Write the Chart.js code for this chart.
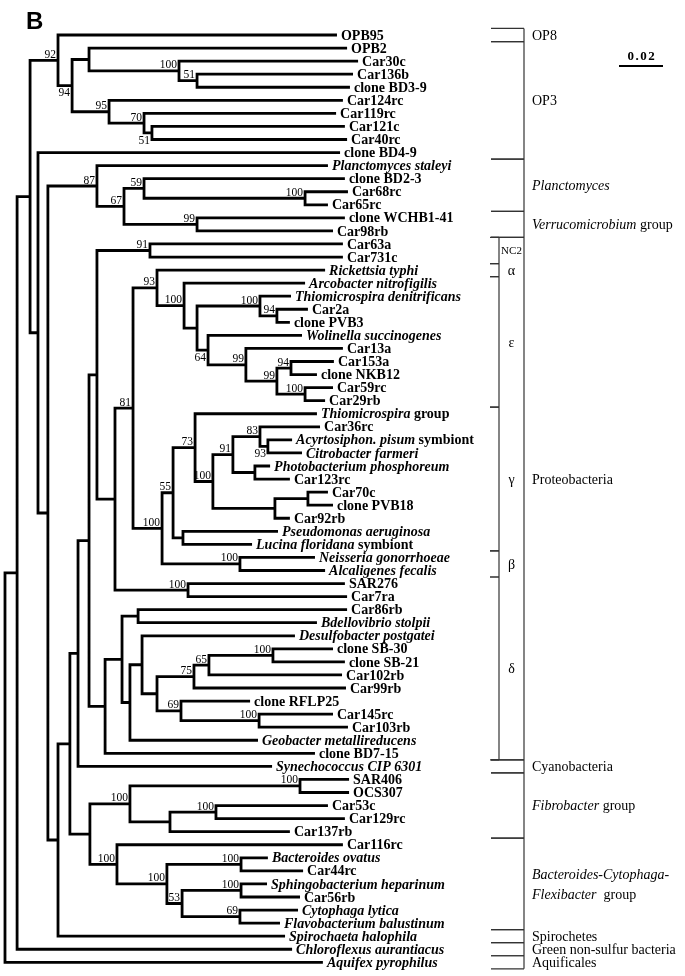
<!DOCTYPE html>
<html><head><meta charset="utf-8">
<script src="https://cdn.jsdelivr.net/npm/chart.js@4.4.0/dist/chart.umd.min.js"></script>
<style>html,body{margin:0;padding:0;background:#fff}#wrap{width:685px;height:976px;position:relative}</style>
</head><body><div id="wrap"><canvas id="c"></canvas></div>
<script>
// ---- DATA ----
// leaves, top to bottom; text between underscores is italic
const leafNames = ["OPB95","OPB2","Car30c","Car136b","clone BD3-9","Car124rc","Car119rc","Car121c","Car40rc","clone BD4-9",
"_Planctomyces staleyi_","clone BD2-3","Car68rc","Car65rc","clone WCHB1-41","Car98rb","Car63a","Car731c","_Rickettsia typhi_","_Arcobacter nitrofigilis_",
"_Thiomicrospira denitrificans_","Car2a","clone PVB3","_Wolinella succinogenes_","Car13a","Car153a","clone NKB12","Car59rc","Car29rb","_Thiomicrospira_ group",
"Car36rc","_Acyrtosiphon. pisum_ symbiont","_Citrobacter farmeri_","_Photobacterium phosphoreum_","Car123rc","Car70c","clone PVB18","Car92rb","_Pseudomonas aeruginosa_","_Lucina floridana_ symbiont",
"_Neisseria gonorrhoeae_","_Alcaligenes fecalis_","SAR276","Car7ra","Car86rb","_Bdellovibrio stolpii_","_Desulfobacter postgatei_","clone SB-30","clone SB-21","Car102rb",
"Car99rb","clone RFLP25","Car145rc","Car103rb","_Geobacter metallireducens_","clone BD7-15","_Synechococcus CIP 6301_","SAR406","OCS307","Car53c",
"Car129rc","Car137rb","Car116rc","_Bacteroides ovatus_","Car44rc","_Sphingobacterium heparinum_","Car56rb","_Cytophaga lytica_","_Flavobacterium balustinum_","_Spirochaeta halophila_",
"_Chloroflexus aurantiacus_","_Aquifex pyrophilus_"];
// distance from root (substitutions per site) of each leaf tip
const leafDepth = [0.1509,0.1555,0.1605,0.1582,0.1568,0.1536,0.1505,0.1545,0.1555,0.1523,
0.1468,0.1545,0.1559,0.1468,0.1545,0.1491,0.1536,0.1536,0.1455,0.1364,
0.1300,0.1377,0.1295,0.1350,0.1536,0.1495,0.1418,0.1491,0.1455,0.1418,
0.1432,0.1305,0.1350,0.1205,0.1295,0.1468,0.1491,0.1295,0.1241,0.1123,
0.1409,0.1455,0.1545,0.1555,0.1555,0.1418,0.1318,0.1491,0.1545,0.1532,
0.1550,0.1114,0.1491,0.1559,0.1150,0.1409,0.1214,0.1564,0.1564,0.1468,
0.1545,0.1295,0.1536,0.1195,0.1355,0.1191,0.1341,0.1332,0.1250,0.1273,
0.1305,0.1445];
// internal node each leaf hangs from
const leafParent = [3,5,6,7,7,8,9,10,10,11,
13,15,16,16,17,17,23,23,26,27,
29,30,30,31,32,34,34,35,35,38,
41,42,42,43,43,45,45,44,46,46,
47,47,48,48,51,51,53,57,57,56,
55,58,59,59,52,49,20,62,62,64,
64,63,65,67,67,69,69,70,70,18,
1,0];
// internal nodes
const nodeParent = [-1,0,1,2,3,4,5,6,4,8,9,2,11,12,13,14,15,14,12,18,
19,20,21,22,22,24,25,26,27,28,29,28,31,32,33,33,25,36,37,38,
39,40,41,40,39,44,37,36,24,21,49,50,50,52,53,54,55,56,54,58,
19,60,61,61,63,60,65,66,66,68,68];
const nodeDepth = [0,0.0055,0.0114,0.0241,0.0305,0.0382,0.0791,0.0873,0.0473,0.0632,
0.0668,0.0150,0.0195,0.0418,0.0541,0.0632,0.1364,0.0873,0.0241,0.0295,
0.0332,0.0382,0.0418,0.0659,0.0500,0.0582,0.0691,0.0814,0.0873,0.1159,
0.1236,0.0923,0.1095,0.1236,0.1300,0.1364,0.0714,0.0764,0.0864,0.0945,
0.1036,0.1159,0.1195,0.1136,0.1227,0.1377,0.0809,0.1068,0.0832,0.0455,
0.0532,0.0605,0.0568,0.0623,0.0691,0.0859,0.0927,0.1218,0.0800,0.1155,
0.0386,0.0568,0.1341,0.0750,0.0959,0.0509,0.0736,0.1073,0.0805,0.1073,
0.1068];
// bootstrap support values (null = not shown)
const nodeSupport = [null,null,null,92,94,null,100,51,95,70,
51,null,null,87,67,59,100,99,null,null,
null,null,null,91,null,81,93,100,null,100,
94,64,99,99,94,100,100,55,73,100,
91,83,93,null,null,null,null,100,100,null,
null,null,null,null,null,75,65,100,69,100,
null,100,100,null,100,100,100,100,53,100,
69];
const supportBelow = [4,10,31,42];
// groups (leaf index ranges)
const groupNames = ["OP8","OP3","_Planctomyces_","_Verrucomicrobium_ group","Proteobacteria","Cyanobacteria","_Fibrobacter_ group","_Bacteroides-Cytophaga-_|_Flexibacter_  group","Spirochetes","Green non-sulfur bacteria","Aquificales"];
const groupFirst = [0,1,10,14,16,56,57,62,69,70,71];
const groupLast  = [0,9,13,15,55,56,61,68,69,70,71];
const subNames = ["NC2","α","ε","γ","β","δ"];
const subFirst = [16,18,19,29,40,42];
const subLast  = [17,18,28,39,41,55];
const scaleBarValue = 0.02;
const scaleBarLabel = "0.02";
const panelLetter = "B";

// ---- layout from the tree structure ----
const nNode = nodeParent.length;
const children = Array.from({length:nNode}, () => []);
leafParent.forEach((p,i) => children[p].push({leaf:true,id:i}));
nodeParent.forEach((p,i) => { if (p >= 0) children[p].push({leaf:false,id:i}); });
const nodeY = new Array(nNode);
function yOf(c){ return c.leaf ? c.id : computeY(c.id); }
function dOf(c){ return c.leaf ? leafDepth[c.id] : nodeDepth[c.id]; }
function computeY(i){
  if (nodeY[i] !== undefined) return nodeY[i];
  const ys = children[i].map(yOf);
  nodeY[i] = (Math.min(...ys) + Math.max(...ys)) / 2;
  return nodeY[i];
}
for (let i = 0; i < nNode; i++) computeY(i);

const treePts = [];
for (let i = 0; i < nNode; i++) {
  const ch = children[i].slice().sort((a,b) => yOf(a) - yOf(b));
  const a = ch[0], b = ch[ch.length-1];
  treePts.push({x:dOf(a),y:yOf(a)},{x:nodeDepth[i],y:yOf(a)},{x:nodeDepth[i],y:yOf(b)},{x:dOf(b),y:yOf(b)},{x:null,y:null});
  for (let k = 1; k < ch.length-1; k++) treePts.push({x:nodeDepth[i],y:yOf(ch[k])},{x:dOf(ch[k]),y:yOf(ch[k])},{x:null,y:null});
}

const SERIF = "'Liberation Serif','Times New Roman',serif";
function richWidth(c, text, size, bold) {
  let w = 0;
  text.split('_').forEach((seg, k) => {
    c.font = (k % 2 ? 'italic ' : '') + (bold ? 'bold ' : '') + size + 'px ' + SERIF;
    w += c.measureText(seg).width;
  });
  return w;
}
function drawRich(c, text, x, y, size, bold, align) {
  let w = richWidth(c, text, size, bold);
  let cx = align === 'center' ? x - w/2 : (align === 'right' ? x - w : x);
  c.textAlign = 'left';
  text.split('_').forEach((seg, k) => {
    c.font = (k % 2 ? 'italic ' : '') + (bold ? 'bold ' : '') + size + 'px ' + SERIF;
    c.fillText(seg, cx, y);
    cx += c.measureText(seg).width;
  });
}

const labelPlugin = {
  id: 'treeLabels',
  afterDatasetsDraw(chart) {
    const xs = chart.scales.x, ys = chart.scales.y, c = chart.ctx;
    c.save();
    c.fillStyle = '#000';
    // leaf labels
    c.textBaseline = 'middle';
    leafNames.forEach((nm, i) => {
      drawRich(c, nm, xs.getPixelForValue(leafDepth[i]) + 4, ys.getPixelForValue(i) + 1, 14, true, 'left');
    });
    // bootstrap values
    c.font = '11.5px ' + SERIF;
    c.textAlign = 'right';
    nodeSupport.forEach((s, i) => {
      if (s === null) return;
      const px = xs.getPixelForValue(nodeDepth[i]) - 2;
      const py = ys.getPixelForValue(nodeY[i]);
      if (supportBelow.includes(i)) { c.textBaseline = 'top'; c.fillText(String(s), px, py + 2); }
      else { c.textBaseline = 'alphabetic'; c.fillText(String(s), px, py - 2.5); }
    });
    // group brackets
    const mainX = 524, tickL = 491, subX = 499;
    c.strokeStyle = '#333'; c.lineWidth = 1.2;
    const yTop = ys.getPixelForValue(groupFirst[0] - 0.5), yBot = ys.getPixelForValue(groupLast[groupLast.length-1] + 0.5);
    c.beginPath(); c.moveTo(mainX, yTop); c.lineTo(mainX, yBot); c.stroke();
    c.textBaseline = 'middle';
    groupNames.forEach((g, i) => {
      const y0 = ys.getPixelForValue(groupFirst[i] - 0.5), y1 = ys.getPixelForValue(groupLast[i] + 0.5);
      c.beginPath(); c.moveTo(tickL, y0); c.lineTo(mainX, y0); c.moveTo(tickL, y1); c.lineTo(mainX, y1); c.stroke();
      let yc = (y0 + y1) / 2;
      if (g === 'Proteobacteria') { const k = subNames.indexOf('γ'); yc = ys.getPixelForValue((subFirst[k] + subLast[k]) / 2); }
      const lines = g.split('|');
      lines.forEach((ln, j) => {
        drawRich(c, ln, 532, yc + 1 + (j - (lines.length-1)/2) * 20, 14, false, 'left');
      });
    });
    // sub-bracket (Proteobacteria classes)
    const sTop = ys.getPixelForValue(subFirst[0] - 0.5), sBot = ys.getPixelForValue(subLast[subLast.length-1] + 0.5);
    c.beginPath(); c.moveTo(subX, sTop); c.lineTo(subX, sBot); c.stroke();
    subNames.forEach((g, i) => {
      const y0 = ys.getPixelForValue(subFirst[i] - 0.5), y1 = ys.getPixelForValue(subLast[i] + 0.5);
      c.beginPath(); c.moveTo(tickL - 1, y0); c.lineTo(subX, y0); c.moveTo(tickL - 1, y1); c.lineTo(subX, y1); c.stroke();
      c.font = (g === 'NC2' ? 11 : 14) + 'px ' + SERIF;
      c.textAlign = 'center';
      c.fillText(g, 511.5, (y0 + y1) / 2 + 1);
    });
    // scale bar
    const len = xs.getPixelForValue(scaleBarValue) - xs.getPixelForValue(0);
    const bx = 619, by = 66;
    c.strokeStyle = '#000'; c.lineWidth = 2;
    c.beginPath(); c.moveTo(bx, by); c.lineTo(bx + len, by); c.stroke();
    c.font = 'bold 13px ' + SERIF; c.textAlign = 'center'; c.textBaseline = 'alphabetic';
    try { c.letterSpacing = '1.5px'; } catch(e) {}
    c.fillText(scaleBarLabel, bx + len/2 + 1, 60);
    try { c.letterSpacing = '0px'; } catch(e) {}
    // panel letter
    c.font = "bold 24px 'Liberation Sans',Arial,sans-serif"; c.textAlign = 'left';
    c.fillText(panelLetter, 26, 29);
    c.restore();
  }
};

new Chart(document.getElementById('c'), {
  type: 'scatter',
  data: { datasets: [{ data: treePts, showLine: true, borderColor: '#000', backgroundColor: '#000', borderWidth: 2.8,
    pointRadius: 0, pointHoverRadius: 0, spanGaps: false, borderJoinStyle: 'miter', borderCapStyle: 'butt', tension: 0 }] },
  options: {
    responsive: true, maintainAspectRatio: false, animation: false, events: [],
    layout: { padding: 0 },
    plugins: { legend: { display: false }, tooltip: { enabled: false } },
    scales: {
      x: { type: 'linear', display: false, min: -0.00227, max: 0.3091 },
      y: { type: 'linear', display: false, reverse: true, min: -2.68, max: 72.05 }
    }
  },
  plugins: [labelPlugin]
});
</script>
</body></html>
